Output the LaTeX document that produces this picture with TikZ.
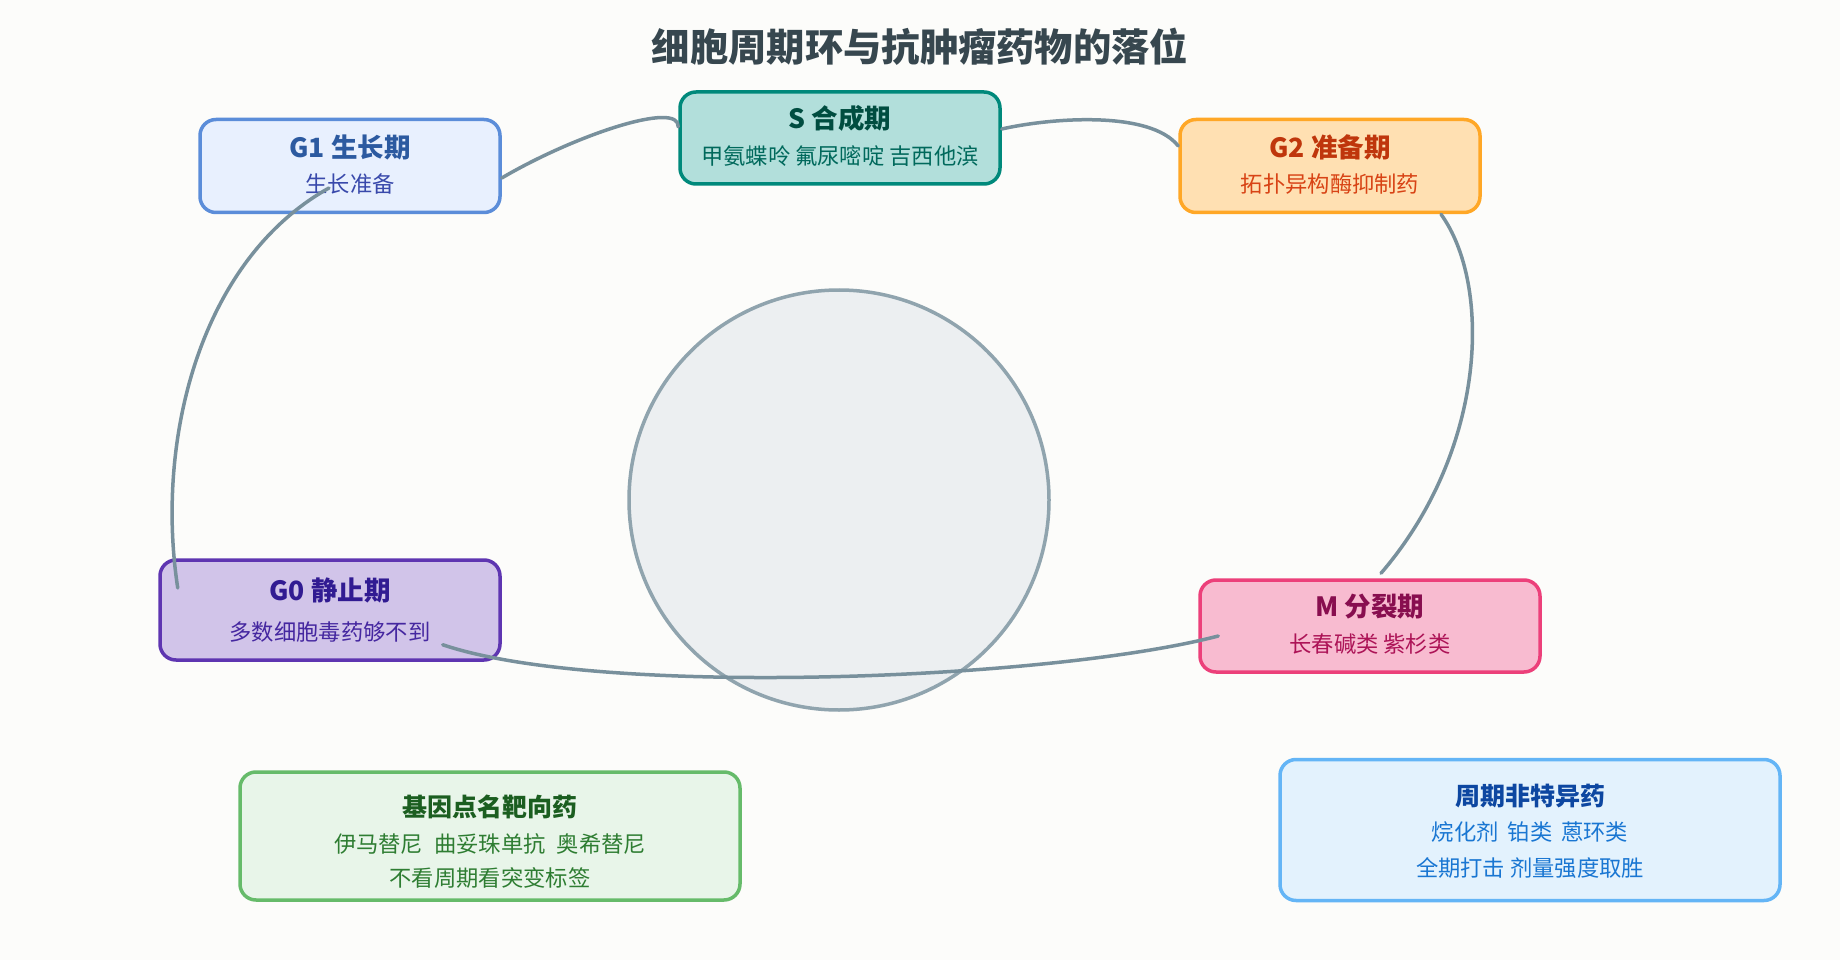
\documentclass[tikz,border=0pt]{standalone}
\usepackage{fontspec}
\setmainfont{Noto Sans CJK SC}
\usetikzlibrary{calc}
\definecolor{bgc}{HTML}{FCFCFA}
\definecolor{ttlc}{HTML}{37474F}
\definecolor{linec}{HTML}{78909C}
\definecolor{cellf}{HTML}{ECEFF1}
\definecolor{celld}{HTML}{90A4AE}
\definecolor{gaf}{HTML}{E8F0FE}\definecolor{gad}{HTML}{5B8DD9}\definecolor{gat}{HTML}{2C5AA0}\definecolor{gas}{HTML}{3949AB}
\definecolor{sf}{HTML}{B2DFDB}\definecolor{sd}{HTML}{00897B}\definecolor{st}{HTML}{004D40}\definecolor{ss}{HTML}{00695C}
\definecolor{gbf}{HTML}{FFE0B2}\definecolor{gbd}{HTML}{FFA726}\definecolor{gbt}{HTML}{BF360C}\definecolor{gbs}{HTML}{D84315}
\definecolor{gof}{HTML}{D1C4E9}\definecolor{god}{HTML}{5E35B1}\definecolor{got}{HTML}{311B92}\definecolor{gos}{HTML}{4527A0}
\definecolor{mf}{HTML}{F8BBD0}\definecolor{md}{HTML}{EC407A}\definecolor{mt}{HTML}{880E4F}\definecolor{ms}{HTML}{AD1457}
\definecolor{tf}{HTML}{E8F5E9}\definecolor{td}{HTML}{66BB6A}\definecolor{tt}{HTML}{1B5E20}\definecolor{ts}{HTML}{2E7D32}
\definecolor{nf}{HTML}{E3F2FD}\definecolor{nd}{HTML}{64B5F6}\definecolor{nt}{HTML}{0D47A1}\definecolor{ns}{HTML}{1976D2}
\tikzset{
  phasebox/.style={draw, rounded corners=16pt, line width=3.5pt, inner sep=0pt},
  ttltext/.style={font=\fontsize{25}{30}\selectfont\bfseries, inner sep=0pt},
  phttl/.style={font=\fontsize{26.5}{31}\selectfont\bfseries, inner sep=0pt},
  subtext/.style={font=\fontsize{22.3}{27}\selectfont, inner sep=0pt},
  conn/.style={draw=linec, line width=3.5pt, line cap=round}
}
\begin{document}
\begin{tikzpicture}[x=1pt,y=-1pt]
\useasboundingbox (0,0) rectangle (1840,960);
\fill[bgc] (0,0) rectangle (1840,960);

\node[font=\fontsize{38.3}{45}\selectfont\bfseries, text=ttlc, inner sep=0pt] (title) at (920,47) {细胞周期环与抗肿瘤药物的落位};

\node[circle, draw=celld, fill=cellf, line width=3.5pt, minimum size=420pt, inner sep=0pt] (cell) at (839,500) {};

% phase boxes
\node[phasebox, draw=gad, fill=gaf, minimum width=300pt, minimum height=93pt] (g1) at (350,166) {};
\node[phttl, text=gat] (g1t) at ([yshift=19pt]g1.center) {G1 生长期};
\node[subtext, text=gas] (g1s) at ([yshift=-18pt]g1.center) {生长准备};

\node[phasebox, draw=sd, fill=sf, minimum width=320pt, minimum height=92pt] (s) at (840,138) {};
\node[phttl, text=st] (st) at ([yshift=19.5pt]s.center) {S 合成期};
\node[subtext, text=ss] (ss) at ([yshift=-18pt]s.center) {甲氨蝶呤 氟尿嘧啶 吉西他滨};

\node[phasebox, draw=gbd, fill=gbf, minimum width=300pt, minimum height=93pt] (g2) at (1330,166) {};
\node[phttl, text=gbt] (g2t) at ([yshift=19pt]g2.center) {G2 准备期};
\node[subtext, text=gbs] (g2s) at ([yshift=-18pt]g2.center) {拓扑异构酶抑制药};

\node[phasebox, draw=god, fill=gof, minimum width=340pt, minimum height=100pt] (g0) at (330,610) {};
\node[phttl, text=got] (g0t) at ([yshift=20pt]g0.center) {G0 静止期};
\node[subtext, text=gos] (g0s) at ([yshift=-22pt]g0.center) {多数细胞毒药够不到};

\node[phasebox, draw=md, fill=mf, minimum width=340pt, minimum height=92pt] (m) at (1370,626) {};
\node[phttl, text=mt] (mtt) at ([yshift=19pt]m.center) {M 分裂期};
\node[subtext, text=ms] (mss) at ([yshift=-18pt]m.center) {长春碱类 紫杉类};

% info boxes
\node[phasebox, draw=td, fill=tf, minimum width=500pt, minimum height=128pt] (tgt) at (490,836) {};
\node[ttltext, text=tt] (tgtt) at ([yshift=29pt]tgt.center) {基因点名靶向药};
\node[subtext, text=ts] (tgts1) at ([yshift=-8pt]tgt.center) {伊马替尼\hspace{6pt} 曲妥珠单抗\hspace{6pt} 奥希替尼};
\node[subtext, text=ts] (tgts2) at ([yshift=-42pt]tgt.center) {不看周期看突变标签};

\node[phasebox, draw=nd, fill=nf, minimum width=500pt, minimum height=141pt] (ns) at (1530,830) {};
\node[ttltext, text=nt] (nst) at ([yshift=34pt]ns.center) {周期非特异药};
\node[subtext, text=ns] (nss1) at ([yshift=-2pt]ns.center) {烷化剂\hspace{4pt} 铂类\hspace{4pt} 蒽环类};
\node[subtext, text=ns] (nss2) at ([yshift=-38pt]ns.center) {全期打击 剂量强度取胜};

% connectors
\draw[conn] ([yshift=-12pt]g1.east) .. controls (575,135) and (680,100) .. ([yshift=11pt]s.west);
\draw[conn] ([yshift=9pt]s.east) .. controls (1050,118) and (1150,110) .. ([yshift=20pt]g2.west);
\draw[conn] ([xshift=111pt]g2.south) .. controls (1492,285) and (1487,450) .. ([xshift=11pt,yshift=5pt]m.north);
\draw[conn] ([xshift=20pt,yshift=-10pt]m.west) .. controls (1050,680) and (600,698) .. ([xshift=-59pt,yshift=17pt]g0.south east);
\draw[conn] ([xshift=19.5pt,yshift=22pt]g0.west) .. controls (155,440) and (200,260) .. ([xshift=-21pt,yshift=-22pt]g1.center);
\end{tikzpicture}
\end{document}
